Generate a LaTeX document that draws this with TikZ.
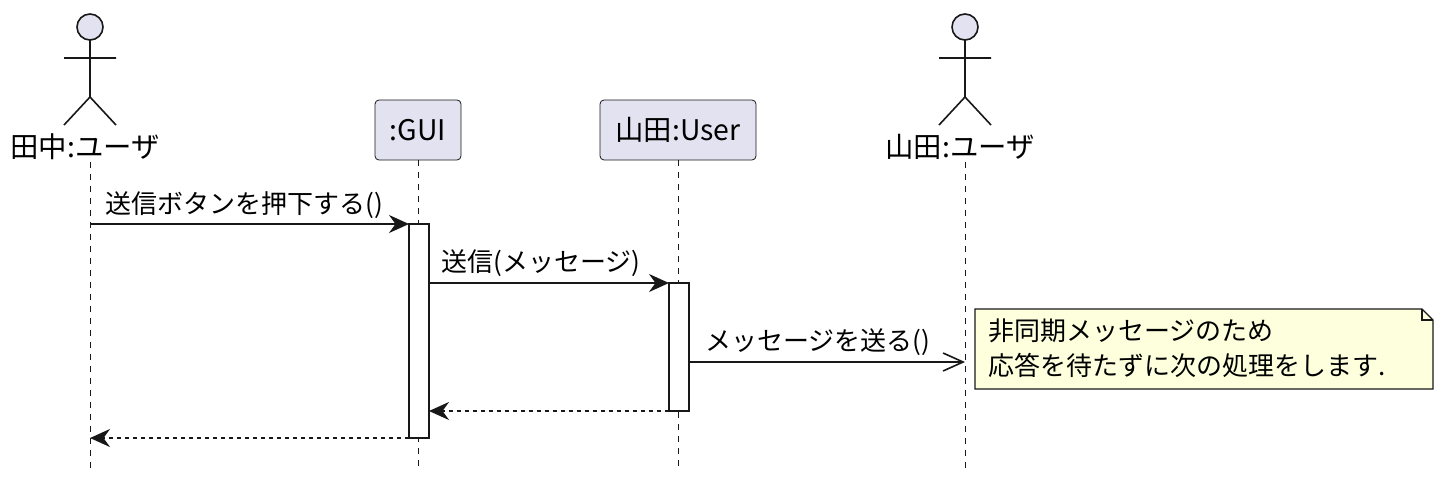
\documentclass[tikz,border=0pt]{standalone}
\usepackage{fontspec}
\setmainfont{Noto Sans CJK JP}
\usetikzlibrary{arrows.meta,positioning}
\definecolor{partfill}{HTML}{E2E2F0}
\definecolor{notefill}{HTML}{FEFFDD}
\definecolor{edge}{HTML}{181818}
\tikzset{
  part/.style={draw=edge, fill=partfill, rounded corners=2pt, minimum height=30pt, inner sep=0pt, font=\fontsize{14.2}{16}\selectfont},
  lbl/.style={font=\fontsize{13}{15}\selectfont, inner sep=0pt},
  life/.style={edge, dashed, dash pattern=on 3pt off 3pt, thin},
  act/.style={draw=edge, fill=white, line width=0.9pt},
  msg/.style={edge, line width=0.8pt, -{Stealth[length=10pt,width=9pt]}},
  amsg/.style={edge, line width=0.8pt, -{Straight Barb[length=10pt,width=9pt]}},
  ret/.style={msg, dashed, dash pattern=on 2pt off 2pt}
}
\begin{document}
\begin{tikzpicture}[x=0.5pt,y=-0.5pt]
  \useasboundingbox (0,0) rectangle (1444,487);
  % actors
  \foreach \ax/\nm in {90/tanaka, 965/yamada}{
    \draw[edge, fill=partfill, line width=0.8pt] (\ax,27) circle (13);
    \draw[edge, line width=0.8pt] (\ax,40) -- (\ax,97) (\ax-26,58) -- (\ax+26,58)
      (\ax-26,125) -- (\ax,97) -- (\ax+26,125);
  }
  \node[lbl, font=\fontsize{14.2}{16}\selectfont] (tanaka) at (85,147) {田中:ユーザ};
  \node[lbl, font=\fontsize{14.2}{16}\selectfont] (yamada) at (960,147) {山田:ユーザ};
  % participants
  \node[part, minimum width=43pt] (gui) at (418,130) {:GUI};
  \node[part, minimum width=78pt] (user) at (678,130) {山田:User};
  % lifelines
  \coordinate (tEnd) at (90,470);
  \coordinate (gEnd) at (418,470);
  \coordinate (uEnd) at (678,470);
  \coordinate (yEnd) at (965,470);
  \draw[life] (90,162) -- (tEnd);
  \draw[life] (gui.south) -- (gEnd);
  \draw[life] (user.south) -- (uEnd);
  \draw[life] (965,162) -- (yEnd);
  % activations
  \draw[act] (409,224) rectangle (429,438);
  \draw[act] (669,283) rectangle (689,411);
  % messages
  \coordinate (m1a) at (90,224);   \coordinate (m1b) at (409,224);
  \coordinate (m2a) at (429,283);  \coordinate (m2b) at (669,283);
  \coordinate (m3a) at (689,362);  \coordinate (m3b) at (965,362);
  \coordinate (r1a) at (669,411);  \coordinate (r1b) at (429,411);
  \coordinate (r2a) at (409,438);  \coordinate (r2b) at (90,438);
  \draw[msg] (m1a) -- (m1b);
  \node[lbl] (l1) at (244,205) {送信ボタンを押下する()};
  \draw[msg] (m2a) -- (m2b);
  \node[lbl] (l2) at (541,263) {送信(メッセージ)};
  \draw[amsg] (m3a) -- (m3b);
  \node[lbl] (l3) at (818,342) {メッセージを送る()};
  \draw[ret] (r1a) -- (r1b);
  \draw[ret] (r2a) -- (r2b);
  % note
  \draw[edge, fill=notefill, line width=0.6pt] (975,309) -- (1422,309) -- (1433,320) -- (1433,389) -- (975,389) -- cycle;
  \draw[edge, line width=0.6pt] (1422,309) -- (1422,320) -- (1433,320);
  \node[lbl, anchor=west] (n1) at (988,331) {非同期メッセージのため};
  \node[lbl, anchor=west] (n2) at (988,365) {応答を待たずに次の処理をします.};
\end{tikzpicture}
\end{document}
